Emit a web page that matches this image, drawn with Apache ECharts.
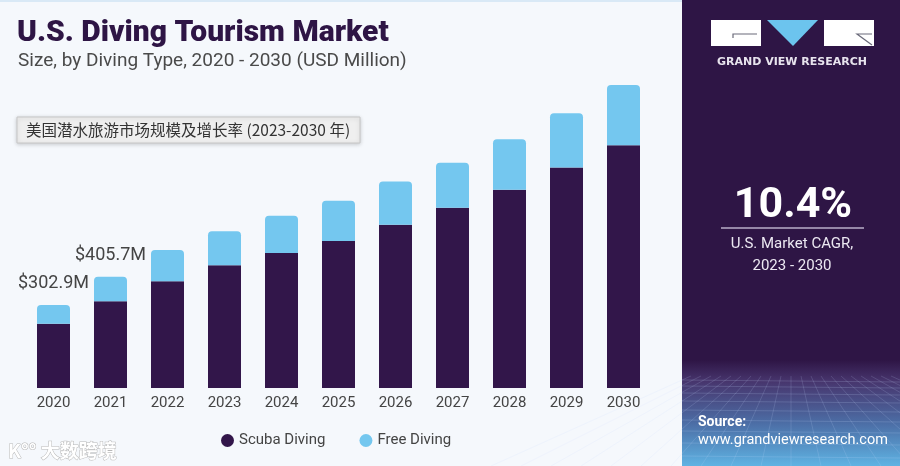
<!DOCTYPE html>
<html lang="en">
<head>
    <meta charset="UTF-8">
    <title>U.S. Diving Tourism Market</title>
    <script src="https://cdn.jsdelivr.net/npm/echarts/dist/echarts.min.js"></script>
    <style>
        html, body { margin: 0; padding: 0; background: #f5f8fc; }
    </style>
</head>
<body>
    <div id="main" style="width: 900px; height: 466px;"></div>
    <script>
        // Values (USD Million)
        var years = ['2020', '2021', '2022', '2023', '2024', '2025', '2026', '2027', '2028', '2029', '2030'];
        var scubaDiving = [234, 316, 389, 448, 492, 536, 595, 657, 723, 804, 885];
        var freeDiving = [68.9, 89.7, 114, 124, 136, 147, 158, 165, 184, 198, 220];
        var labelledYears = ['2020', '2021'];

        var totals = scubaDiving.map(function (v, i) { return v + freeDiving[i]; });

        var purple = '#32164a';
        var blue = '#74c7ef';

        var chart = echarts.init(document.getElementById('main'));

        // small helper for free-standing text
        function txt(x, y, text, extra) {
            var style = { x: x, y: y, text: text, fill: '#ffffff', verticalAlign: 'middle', fontFamily: 'Roboto' };
            for (var k in extra) style[k] = extra[k];
            return { type: 'text', silent: true, style: style };
        }

        var option = {
            backgroundColor: '#f5f8fc',
            textStyle: { fontFamily: 'Roboto, "Noto Sans", sans-serif' },
            legend: {
                data: ['Scuba Diving', 'Free Diving'],
                left: 216,
                top: 428,
                icon: 'circle',
                itemWidth: 13,
                itemHeight: 13,
                itemGap: 34,
                textStyle: { fontSize: 15, color: '#444' }
            },
            grid: { left: 25, right: 248, top: 59, bottom: 78 },
            xAxis: {
                type: 'category',
                data: years,
                axisLine: { show: false },
                axisTick: { show: false },
                axisLabel: { fontSize: 15, color: '#444', margin: 8 }
            },
            yAxis: {
                type: 'value',
                min: 0,
                max: 1200,
                show: false,
                splitLine: { show: false }
            },
            series: [
                {
                    name: 'Scuba Diving',
                    type: 'bar',
                    stack: 'total',
                    barWidth: 33,
                    data: scubaDiving,
                    itemStyle: { color: purple }
                },
                {
                    name: 'Free Diving',
                    type: 'bar',
                    stack: 'total',
                    barWidth: 33,
                    data: freeDiving,
                    itemStyle: { color: blue, borderRadius: [4, 4, 0, 0] },
                    label: {
                        show: true,
                        position: 'top',
                        distance: 12,
                        fontSize: 18,
                        color: '#444',
                        formatter: function (p) {
                            if (labelledYears.indexOf(p.name) < 0) return '';
                            return '$' + totals[p.dataIndex].toFixed(1) + 'M';
                        }
                    }
                }
            ],
            graphic: [
                // top edge line
                { type: 'rect', shape: { x: 0, y: 0, width: 682, height: 2 }, style: { fill: '#d9e9f6' }, silent: true },
                // title + subtitle
                txt(17, 33, 'U.S. Diving Tourism Market', { fontSize: 30, fontWeight: 900, fill: '#2e1545' }),
                txt(18, 61, 'Size, by Diving Type, 2020 - 2030 (USD Million)', { fontSize: 19, fill: '#4a4a4a' }),
                // Chinese caption box
                {
                    type: 'rect',
                    shape: { x: 17, y: 117, width: 343, height: 26 },
                    style: {
                        fill: '#efefef', stroke: '#c6c6c6', lineWidth: 1,
                        shadowBlur: 4, shadowColor: 'rgba(0,0,0,0.18)', shadowOffsetY: 1
                    }
                },
                txt(26, 130, '美国潜水旅游市场规模及增长率 (2023-2030 年)', {
                    fontSize: 15.5, fill: '#333', fontFamily: '"Noto Sans CJK SC", sans-serif'
                }),
                // right panel
                { type: 'rect', shape: { x: 682, y: 0, width: 218, height: 466 }, style: { fill: '#2e1545' } },
                {
                    type: 'rect',
                    shape: { x: 682, y: 360, width: 218, height: 106 },
                    style: {
                        fill: {
                            type: 'linear', x: 0, y: 0, x2: 0, y2: 1,
                            colorStops: [
                                { offset: 0, color: 'rgba(46,21,69,1)' },
                                { offset: 0.2, color: '#47356d' },
                                { offset: 0.6, color: '#4c6ea6' },
                                { offset: 1, color: '#5fb3e3' }
                            ]
                        }
                    }
                },
                // faint perspective grid
                {
                    type: 'group',
                    silent: true,
                    children: (function () {
                        var c = [];
                        var hy = [380, 386, 393, 401, 410, 420, 431, 443, 456];
                        hy.forEach(function (y) {
                            c.push({ type: 'line', shape: { x1: 682, y1: y, x2: 900, y2: y + 2 }, style: { stroke: 'rgba(200,220,255,0.18)', lineWidth: 1 } });
                        });
                        for (var k = -10; k <= 10; k++) {
                            c.push({ type: 'line', shape: { x1: 791 + k * 10, y1: 376, x2: 791 + k * 30, y2: 466 }, style: { stroke: 'rgba(200,220,255,0.16)', lineWidth: 1 } });
                        }
                        return c;
                    })()
                },
                // logo
                { type: 'rect', shape: { x: 711, y: 20, width: 50, height: 26 }, style: { fill: '#ffffff' } },
                { type: 'polyline', shape: { points: [[757, 34], [733, 34], [733, 38]] }, style: { stroke: '#6b6b7a', lineWidth: 1.2, fill: null } },
                { type: 'polygon', shape: { points: [[767, 20], [818, 20], [793, 46]] }, style: { fill: '#6cc4ee' } },
                { type: 'rect', shape: { x: 824, y: 20, width: 50, height: 26 }, style: { fill: '#ffffff' } },
                { type: 'polyline', shape: { points: [[872, 34], [857, 34], [872, 45]] }, style: { stroke: '#6b6b7a', lineWidth: 1.2, fill: null } },
                txt(792, 62, 'GRAND VIEW RESEARCH', {
                    fontSize: 11, fontWeight: 'bold', fill: '#e8e4ee', align: 'center', fontFamily: '"DejaVu Sans"'
                }),
                // CAGR block
                txt(793, 206, '10.4%', { fontSize: 43, fontWeight: 'bold', align: 'center' }),
                { type: 'line', shape: { x1: 721, y1: 228, x2: 864, y2: 228 }, style: { stroke: '#b9aec8', lineWidth: 1.5 } },
                txt(792, 244, 'U.S. Market CAGR,', { fontSize: 15, fill: '#ece8f2', align: 'center' }),
                txt(792, 266, '2023 - 2030', { fontSize: 15, fill: '#ece8f2', align: 'center' }),
                // source
                txt(698, 422, 'Source:', { fontSize: 14, fontWeight: 'bold' }),
                txt(698, 440, 'www.grandviewresearch.com', { fontSize: 14.5 }),
                // watermark
                txt(8, 451, 'K°° 大数跨境', {
                    fontSize: 19, fontWeight: 'bold', stroke: '#b8b8b8', lineWidth: 1,
                    fontFamily: '"Noto Sans CJK SC", sans-serif'
                })
            ]
        };

        chart.setOption(option);
    </script>
</body>
</html>
